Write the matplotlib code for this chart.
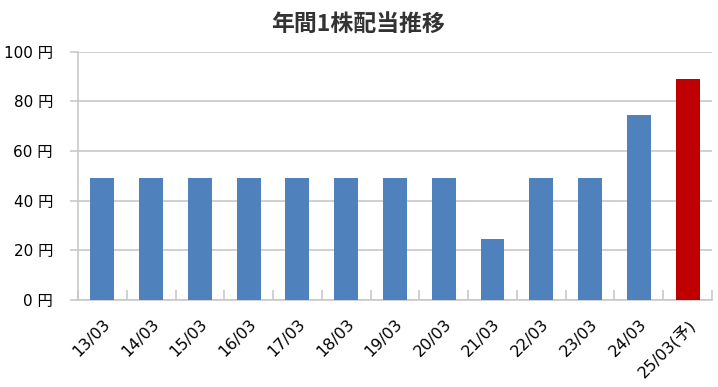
import matplotlib.pyplot as plt
import numpy as np

plt.rcParams['font.family'] = ['DejaVu Sans', 'Noto Sans CJK JP']

labels = ['13/03', '14/03', '15/03', '16/03', '17/03', '18/03', '19/03',
          '20/03', '21/03', '22/03', '23/03', '24/03', '25/03(予)']
values = [49, 49, 49, 49, 49, 49, 49, 49, 24.5, 49, 49, 74.5, 89]
colors = ['#4F81BD'] * 12 + ['#C00000']
yticks = [0, 20, 40, 60, 80, 100]

fig = plt.figure(figsize=(7.18, 3.87), dpi=100)
ax = fig.add_axes([0.1086, 0.2248, 0.883, 0.6416])

x = np.arange(len(labels))
ax.bar(x, values, width=0.49, color=colors, zorder=3)

ax.set_xlim(-0.5, len(labels) - 0.5)
ax.set_ylim(0, 100)
ax.set_yticks(yticks)
ax.set_yticklabels([f'{v} 円' for v in yticks], fontsize=11)
ax.yaxis.grid(True, color='#c8c8c8', linewidth=1.2, zorder=0)

ax.set_xticks(x)
ax.set_xticklabels(labels, rotation=45, ha='right', va='top',
                   rotation_mode='anchor', fontsize=11.5)
ax.tick_params(axis='x', length=0, pad=12)
ax.set_xticks(np.arange(len(labels) + 1) - 0.5, minor=True)
ax.tick_params(axis='x', which='minor', direction='in', length=7,
               color='#c8c8c8', width=1.2)
ax.tick_params(axis='y', length=6, color='#c8c8c8', width=1.2, pad=12)

for s in ['top', 'right']:
    ax.spines[s].set_visible(False)
for s in ['left', 'bottom']:
    ax.spines[s].set_color('#c8c8c8')
    ax.spines[s].set_linewidth(1.2)

fig.text(0.498, 0.937, '年間1株配当推移', ha='center', va='center',
         fontsize=16.5, fontweight='bold', color='#333333',
         family=['Noto Sans CJK JP'])

fig.savefig('out.png', dpi=100)
